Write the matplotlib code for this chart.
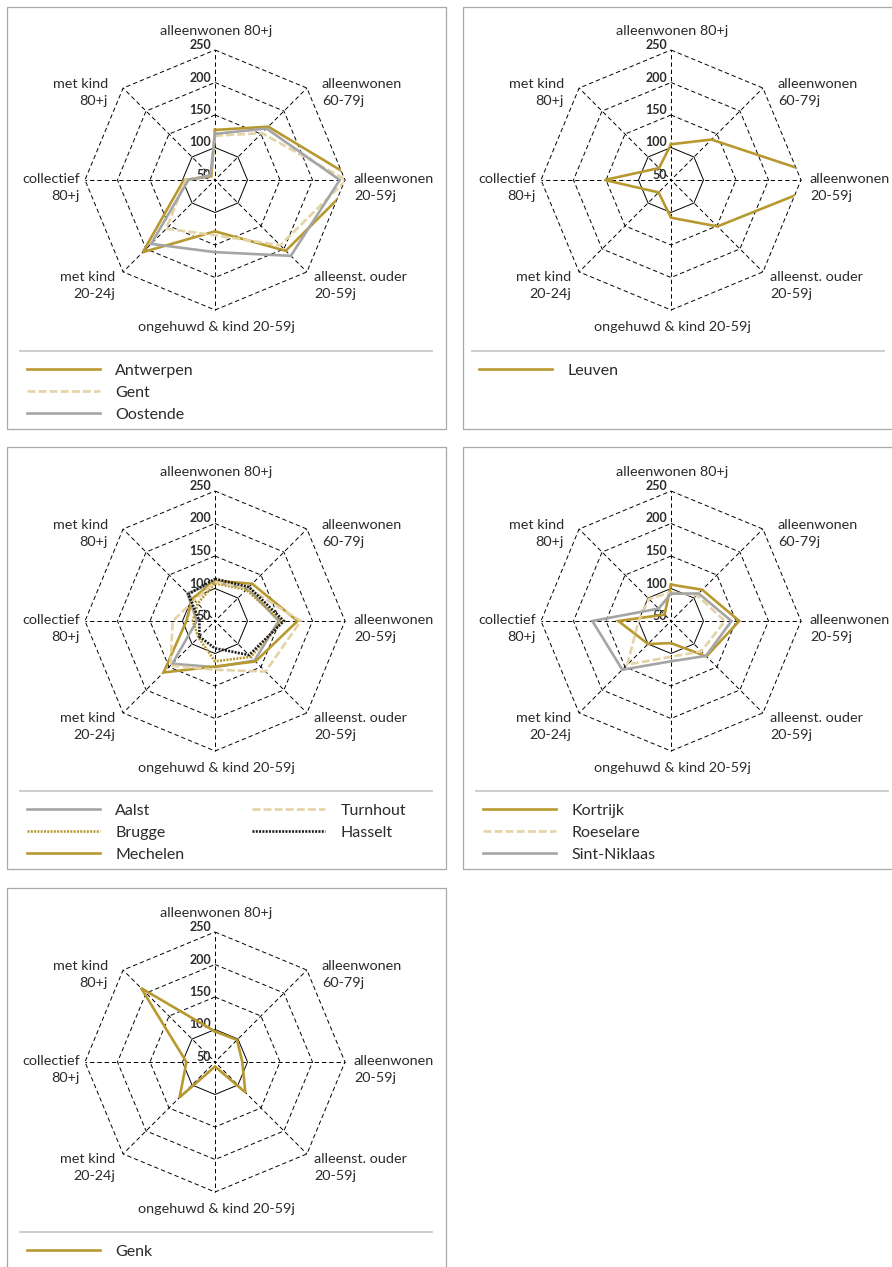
import numpy as np
import matplotlib
matplotlib.use("Agg")
import matplotlib.pyplot as plt
from matplotlib.patches import Polygon, Rectangle
from matplotlib.lines import Line2D

plt.rcParams['font.family'] = ['Lato', 'DejaVu Sans']

# ---------------- data ----------------
categories = ["alleenwonen 80+j", "alleenwonen\n60-79j", "alleenwonen\n20-59j",
              "alleenst. ouder\n20-59j", "ongehuwd & kind 20-59j", "met kind\n20-24j",
              "collectief\n80+j", "met kind\n80+j"]
levels = [50, 100, 150, 200, 250]
level_labels = ["50", "100", "150", "200", "250"]

antwerpen = [127, 166, 268, 204, 129, 207, 98, 58]
gent = [118, 152, 252, 192, 135, 156, 95, 60]
oostende = [121, 162, 242, 215, 161, 189, 91, 60]

leuven = [105, 138, 300, 151, 108, 77, 152, 76]

aalst = [110, 121, 148, 136, 121, 143, 78, 110]
brugge = [108, 118, 152, 128, 112, 86, 84, 88]
mechelen = [112, 131, 177, 138, 120, 162, 94, 99]
turnhout = [110, 122, 182, 160, 125, 147, 115, 95]
hasselt = [115, 124, 156, 124, 92, 84, 74, 108]

kortrijk = [106, 118, 155, 127, 84, 100, 131, 64]
roeselare = [94, 106, 133, 116, 105, 145, 100, 98]
sint_niklaas = [92, 110, 143, 126, 112, 156, 171, 77]

genk = [97, 98, 92, 116, 57, 127, 94, 211]

# ---------------- styles ----------------
GOLD = '#B8992F'
LIGHT = '#E3D3A5'
GREY = '#A5A5A5'
BLACK = '#1A1A1A'
LW = 1.9
S_GOLD = dict(color=GOLD, linestyle='-')
S_LIGHT = dict(color=LIGHT, linestyle=(0, (3.0, 1.2)))
S_GREY = dict(color=GREY, linestyle='-')
S_GOLD_DOT = dict(color=GOLD, linestyle=(0, (0.75, 0.5)))
S_BLACK_DOT = dict(color=BLACK, linestyle=(0, (0.75, 0.5)))

W, H = 892, 1267
R = 130
fig = plt.figure(figsize=(W / 100, H / 100), dpi=100)

def fx(x):
    return x / W

def fy(y):
    return 1 - y / H

n = len(categories)
angles = np.linspace(0, 2 * np.pi, n, endpoint=False)

def closed(a):
    a = list(a)
    return a + a[:1]

# label placement: (dx, dy in pixels, y up), ha
label_pos = [(1, 19, 'center'), (15, -4.5, 'left'), (9, -7.5, 'left'), (7, -13.5, 'left'),
             (1.5, -17, 'center'), (-8, -13.5, 'right'), (-5, -7.5, 'right'), (-15, -4.5, 'right')]

TXT = '#2B2B2B'

def radar(cx, cy, series):
    ax = fig.add_axes([fx(cx - R), fy(cy + R), 2 * R / W, 2 * R / H], projection='polar')
    ax.set_theta_zero_location('N')
    ax.set_theta_direction(-1)
    ax.set_ylim(levels[0], levels[-1])
    ax.set_xticks([])
    ax.set_yticks([])
    ax.grid(False)
    for sp in ax.spines.values():
        sp.set_visible(False)
    ax.patch.set_visible(False)
    # grid
    for lv in levels[1:]:
        ls = '-' if lv == 100 else (0, (4.5, 3))
        ax.plot(closed(angles), [lv] * (n + 1), color='black', lw=0.7, linestyle=ls,
                clip_on=False, zorder=1)
    for a in angles:
        ax.plot([a, a], [levels[0], levels[-1]], color='black', lw=0.7,
                linestyle=(3, (4.5, 3)), clip_on=False, zorder=1)
    for lv, lab in zip(levels, level_labels):
        ax.annotate(lab, xy=(0, lv), xytext=(-4, 5), textcoords='offset pixels',
                    ha='right', va='center', fontsize=9, fontweight='bold',
                    color=TXT, annotation_clip=False, zorder=2)
    for a, cat, (dx, dy, ha) in zip(angles, categories, label_pos):
        ax.annotate(cat, xy=(a, levels[-1]), xytext=(dx, dy), textcoords='offset pixels',
                    ha=ha, va='center', multialignment=ha if ha != 'center' else 'center',
                    fontsize=10.4, color=TXT, linespacing=1.45, annotation_clip=False)
    clip = Polygon(np.column_stack([angles, np.full(n, levels[-1])]), closed=True,
                   transform=ax.transData)
    for name, vals, st in series:
        ln, = ax.plot(closed(angles), closed(vals), lw=LW, solid_joinstyle='miter',
                      dash_joinstyle='miter', dash_capstyle='butt', zorder=3, **st)
        ln.set_clip_path(clip)
    return ax

def panel(box, cx, cy, series, legend_cols, line_off=20, sep=(13, 425)):
    bx, by, bw, bh = box
    fig.add_artist(Rectangle((fx(bx), fy(by + bh)), bw / W, bh / H, transform=fig.transFigure,
                             fill=False, edgecolor='#A8A8A8', lw=0.9))
    radar(cx, cy, series)
    sy = by + 344
    fig.add_artist(Line2D([fx(bx + sep[0]), fx(bx + sep[1])], [fy(sy), fy(sy)],
                          transform=fig.transFigure, color='#C9C9C9', lw=1.3))
    for col_x, items in legend_cols:
        for i, (name, st) in enumerate(items):
            ry = by + 362 + 21.8 * i
            x0 = bx + line_off + col_x
            fig.add_artist(Line2D([fx(x0), fx(x0 + 73)], [fy(ry), fy(ry)],
                                  transform=fig.transFigure, lw=LW, dash_capstyle='butt', **st))
            fig.text(fx(x0 + 88), fy(ry + 5.8), name, fontsize=11.5, color=TXT,
                     ha='left', va='baseline')

# Panel 1
s1 = [("Antwerpen", antwerpen, S_GOLD), ("Gent", gent, S_LIGHT), ("Oostende", oostende, S_GREY)]
panel((7.3, 7.3, 438.5, 422), 215, 180, s1, [(0, [(s[0], s[2]) for s in s1])])

# Panel 2
s2 = [("Leuven", leuven, S_GOLD)]
panel((463.3, 7.3, 440, 422), 671, 180, s2, [(0, [(s[0], s[2]) for s in s2])],
      line_off=16, sep=(9, 421))

# Panel 3
s3 = [("Aalst", aalst, S_GREY), ("Brugge", brugge, S_GOLD_DOT), ("Mechelen", mechelen, S_GOLD),
      ("Turnhout", turnhout, S_LIGHT), ("Hasselt", hasselt, S_BLACK_DOT)]
panel((7.3, 447.3, 438.5, 422), 215, 621, s3,
      [(0, [(s[0], s[2]) for s in s3[:3]]), (225, [(s[0], s[2]) for s in s3[3:]])])

# Panel 4
s4 = [("Kortrijk", kortrijk, S_GOLD), ("Roeselare", roeselare, S_LIGHT),
      ("Sint-Niklaas", sint_niklaas, S_GREY)]
panel((463.3, 447.3, 440, 422), 671, 621, s4, [(0, [(s[0], s[2]) for s in s4])])

# Panel 5
s5 = [("Genk", genk, S_GOLD)]
panel((7.3, 888.3, 438.5, 400), 215, 1062, s5, [(0, [(s[0], s[2]) for s in s5])])

fig.savefig("out.png", dpi=100)
